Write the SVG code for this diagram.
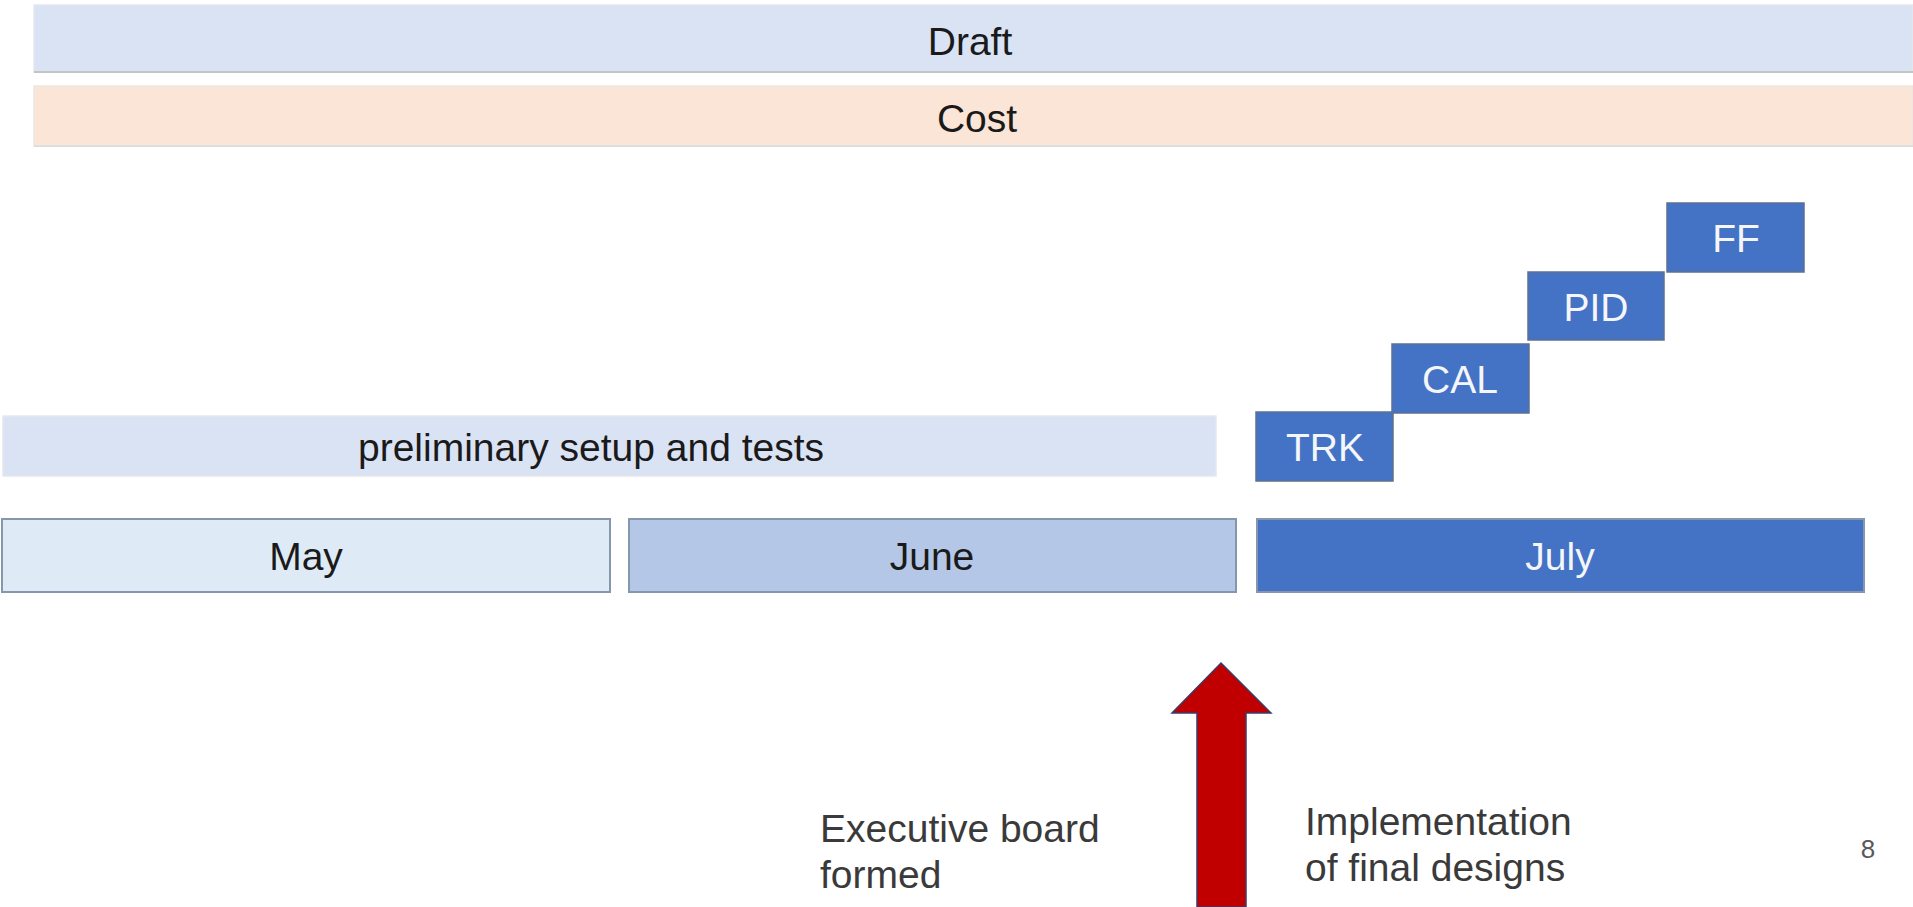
<svg xmlns="http://www.w3.org/2000/svg" width="1913" height="907" viewBox="0 0 1913 907">
  <style>
    text { font-family: "Liberation Sans", Arial, sans-serif; }
    .lbl { font-size: 39px; fill: #1a1a1a; text-anchor: middle; }
    .wlbl { font-size: 39px; fill: #f4f6fa; text-anchor: middle; }
    .note { font-size: 39px; fill: #3a3a3a; }
    .band-blue { fill: #dae3f3; stroke: #e4e8ee; stroke-width: 1.5; }
    .band-peach { fill: #fbe5d6; stroke: #ece6e2; stroke-width: 1.5; }
    .shadow { stroke: #c4c4c4; stroke-width: 2; }
    .task { fill: #4472c4; stroke: #5d7090; stroke-width: 1.5; }
    .month { stroke: #8696ad; stroke-width: 2; }
  </style>

  <g id="draft">
    <rect class="band-blue" x="34" y="5" width="1879" height="67"/>
    <line class="shadow" x1="34" y1="72" x2="1913" y2="72"/>
    <text class="lbl" x="970" y="55">Draft</text>
  </g>

  <g id="cost">
    <rect class="band-peach" x="34" y="86" width="1879" height="60"/>
    <line x1="34" y1="146" x2="1913" y2="146" stroke="#dedede" stroke-width="2"/>
    <text class="lbl" x="977" y="132">Cost</text>
  </g>

  <g id="preliminary">
    <rect class="band-blue" x="3" y="416" width="1213" height="60"/>
    <text class="lbl" x="591" y="461">preliminary setup and tests</text>
  </g>

  <g id="may">
    <rect class="month" x="2" y="519" width="608" height="73" fill="#deebf7"/>
    <text class="lbl" x="306" y="570">May</text>
  </g>

  <g id="june">
    <rect class="month" x="629" y="519" width="607" height="73" fill="#b4c7e7"/>
    <text class="lbl" x="932" y="570">June</text>
  </g>

  <g id="july">
    <rect class="month" x="1257" y="519" width="607" height="73" fill="#4472c4"/>
    <text class="wlbl" x="1560" y="570">July</text>
  </g>

  <g id="trk">
    <rect class="task" x="1256" y="412" width="137" height="69"/>
    <text class="wlbl" x="1325" y="461">TRK</text>
  </g>

  <g id="cal">
    <rect class="task" x="1392" y="344" width="137" height="69"/>
    <text class="wlbl" x="1460" y="393">CAL</text>
  </g>

  <g id="pid">
    <rect class="task" x="1528" y="272" width="136" height="68"/>
    <text class="wlbl" x="1596" y="321">PID</text>
  </g>

  <g id="ff">
    <rect class="task" x="1667" y="203" width="137" height="69"/>
    <text class="wlbl" x="1736" y="252">FF</text>
  </g>

  <g id="connectors">
    <polygon points="1221,663 1271,713 1246,713 1246,907 1197,907 1197,713 1172,713" fill="#c00000" stroke="#3b3b68" stroke-width="1.5" stroke-linejoin="miter"/>
  </g>

  <g id="executive-note">
    <text class="note" x="820" y="842">Executive board</text>
    <text class="note" x="820" y="888">formed</text>
  </g>

  <g id="implementation-note">
    <text class="note" x="1305" y="835">Implementation</text>
    <text class="note" x="1305" y="881">of final designs</text>
  </g>

  <g id="page-number">
    <text x="1868" y="858" font-size="26" fill="#595959" text-anchor="middle">8</text>
  </g>
</svg>
